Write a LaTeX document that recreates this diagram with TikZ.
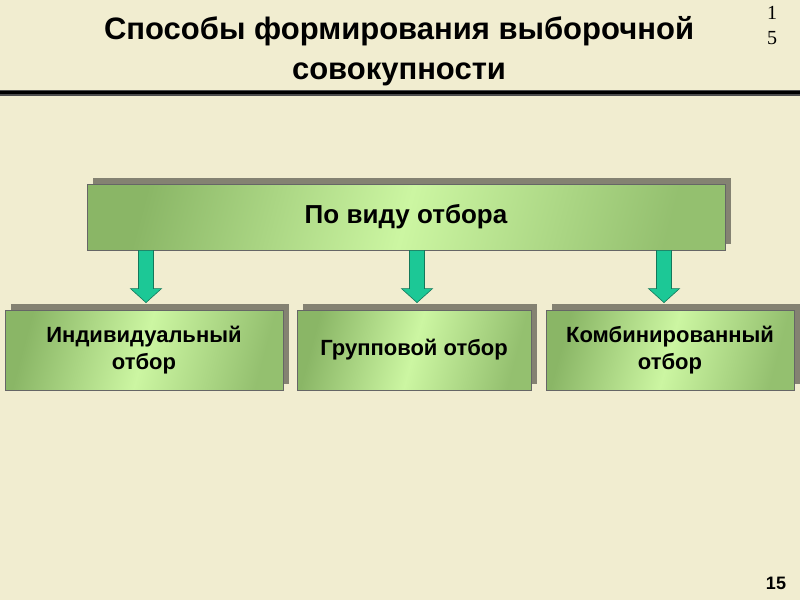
\documentclass[tikz,border=0pt]{standalone}
\usepackage{fontspec}
\setmainfont{Liberation Sans}
\newfontfamily\serifnum{Liberation Serif}
\usetikzlibrary{calc,shadows}
\definecolor{bgbeige}{RGB}{241,237,208}
\definecolor{boxdark}{RGB}{138,182,102}
\definecolor{boxlight}{RGB}{204,246,162}
\definecolor{arrowfill}{RGB}{28,200,150}
\definecolor{arrowline}{RGB}{20,120,90}
\tikzset{
  greenbox/.style={draw=black!60, line width=0.8pt, inner sep=0pt, align=center,
    font=\bfseries\fontsize{22}{27}\selectfont,
    shading=axis, left color=boxdark, right color=boxdark!85!boxlight, middle color=boxlight,
    shading angle=75,
    drop shadow={shadow xshift=6pt, shadow yshift=6pt, fill=black, opacity=0.45}},
  garrow/.style={fill=arrowfill, draw=arrowline, line width=0.6pt, line join=miter},
}
\begin{document}
\begin{tikzpicture}[x=1pt,y=-1pt]
  \fill[bgbeige] (0,0) rectangle (800,600);
  \useasboundingbox (0,0) rectangle (800,600);
  % title
  \node[font=\bfseries\fontsize{31}{40}\selectfont, align=center] (title) at (399,51)
    {Способы формирования выборочной\\совокупности};
  \node[font=\serifnum\fontsize{20}{20}\selectfont] (p1) at (772,13) {1};
  \node[font=\serifnum\fontsize{20}{20}\selectfont] (p5) at (772,38) {5};
  % rule
  \draw[black!70, line width=6pt] (0,93) -- (800,93);
  \draw[black, line width=3pt] (0,92.5) -- (800,92.5);
  % boxes
  \node[greenbox, minimum width=638pt, minimum height=66pt, font=\bfseries\fontsize{26}{30}\selectfont] (top) at (406,217) {По виду отбора};
  \node[greenbox, minimum width=278pt, minimum height=80pt] (ind) at (144,350) {Индивидуальный\\отбор};
  \node[greenbox, minimum width=234pt, minimum height=80pt] (grp) at (414,350) {Групповой отбор};
  \node[greenbox, minimum width=248pt, minimum height=80pt] (kmb) at (670,350) {Комбинированный\\отбор};
  % arrows
  \foreach \b/\dx in {ind/2,grp/3,kmb/-6} {
    \draw[garrow] let \p1=($(top.south -| \b.north)+(\dx,0)$), \p2=($(\b.north)+(\dx,0)$) in
      (\x1-7.5pt,\y1) -- (\x1-7.5pt,\y2+21pt) -- (\x1-15.5pt,\y2+21pt) -- (\x1,\y2+7pt)
      -- (\x1+15.5pt,\y2+21pt) -- (\x1+7.5pt,\y2+21pt) -- (\x1+7.5pt,\y1) -- cycle;
  }
  % page number
  \node[font=\bfseries\fontsize{18}{18}\selectfont] (pnum) at (776,583) {15};
\end{tikzpicture}
\end{document}
